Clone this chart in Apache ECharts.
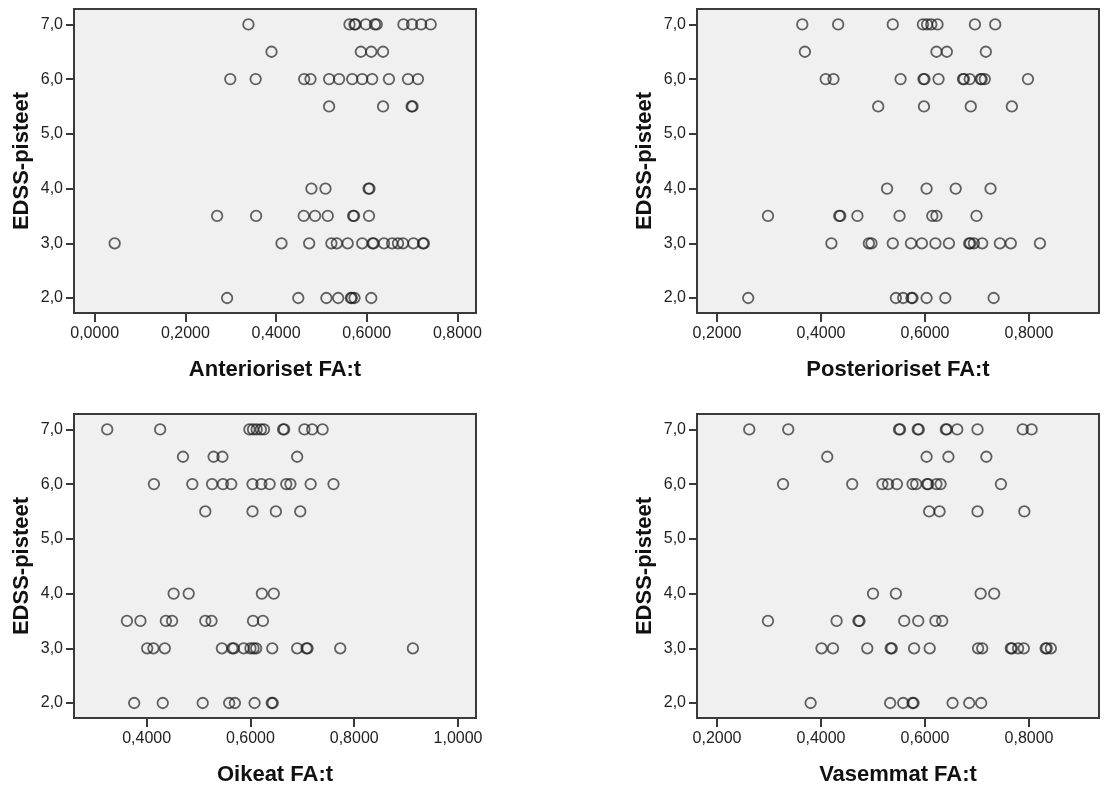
<!DOCTYPE html>
<html>
<head>
<meta charset="utf-8">
<script src="https://cdn.jsdelivr.net/npm/echarts@6/dist/echarts.min.js"></script>
<style>
  html, body { margin: 0; padding: 0; background: #fff; }
  #main { width: 1104px; height: 791px; }
</style>
</head>
<body>
<div id="main"></div>
<script>
// EDSS score rows, top to bottom; each FA array below has one list per row
const edssLevels = [7.0, 6.5, 6.0, 5.5, 4.0, 3.5, 3.0, 2.0];
const edssTicks = [2, 3, 4, 5, 6, 7];

const anteriorFA = [
  [0.339, 0.562, 0.573, 0.575, 0.598, 0.618, 0.622, 0.681, 0.700, 0.720, 0.741],
  [0.390, 0.587, 0.610, 0.636],
  [0.299, 0.355, 0.462, 0.476, 0.517, 0.539, 0.568, 0.590, 0.612, 0.649, 0.691, 0.713],
  [0.517, 0.636, 0.699, 0.701],
  [0.478, 0.509, 0.604, 0.606],
  [0.270, 0.356, 0.461, 0.486, 0.514, 0.570, 0.572, 0.605],
  [0.044, 0.412, 0.473, 0.522, 0.534, 0.558, 0.590, 0.613, 0.615, 0.638, 0.656, 0.669, 0.680, 0.703, 0.724, 0.726],
  [0.292, 0.449, 0.511, 0.537, 0.565, 0.567, 0.573, 0.610]
];
const posteriorFA = [
  [0.364, 0.433, 0.538, 0.596, 0.604, 0.612, 0.624, 0.696, 0.735],
  [0.369, 0.622, 0.642, 0.717],
  [0.409, 0.424, 0.553, 0.597, 0.599, 0.626, 0.673, 0.675, 0.686, 0.707, 0.709, 0.715, 0.798],
  [0.510, 0.598, 0.688, 0.767],
  [0.527, 0.603, 0.659, 0.726],
  [0.298, 0.435, 0.437, 0.470, 0.551, 0.614, 0.622, 0.699],
  [0.420, 0.492, 0.497, 0.538, 0.573, 0.594, 0.620, 0.646, 0.685, 0.687, 0.694, 0.710, 0.744, 0.765, 0.821],
  [0.260, 0.544, 0.558, 0.574, 0.576, 0.603, 0.639, 0.732]
];
const oikeatFA = [
  [0.324, 0.426, 0.598, 0.605, 0.612, 0.620, 0.626, 0.663, 0.665, 0.704, 0.719, 0.739],
  [0.470, 0.529, 0.546, 0.690],
  [0.414, 0.488, 0.526, 0.547, 0.563, 0.604, 0.621, 0.637, 0.669, 0.677, 0.716, 0.760],
  [0.513, 0.604, 0.649, 0.696],
  [0.452, 0.481, 0.622, 0.645],
  [0.362, 0.388, 0.437, 0.449, 0.513, 0.525, 0.605, 0.624],
  [0.401, 0.413, 0.435, 0.545, 0.565, 0.568, 0.587, 0.600, 0.606, 0.611, 0.642, 0.690, 0.708, 0.710, 0.773, 0.913],
  [0.376, 0.431, 0.508, 0.559, 0.570, 0.608, 0.641, 0.643]
];
const vasemmatFA = [
  [0.262, 0.337, 0.550, 0.552, 0.586, 0.588, 0.640, 0.642, 0.662, 0.701, 0.788, 0.805],
  [0.412, 0.603, 0.645, 0.718],
  [0.327, 0.460, 0.518, 0.529, 0.546, 0.576, 0.583, 0.604, 0.606, 0.622, 0.630, 0.746],
  [0.608, 0.628, 0.701, 0.791],
  [0.500, 0.544, 0.707, 0.733],
  [0.298, 0.430, 0.472, 0.474, 0.560, 0.587, 0.620, 0.633],
  [0.401, 0.423, 0.489, 0.534, 0.536, 0.579, 0.609, 0.702, 0.710, 0.765, 0.767, 0.779, 0.790, 0.832, 0.834, 0.842],
  [0.380, 0.533, 0.558, 0.576, 0.578, 0.653, 0.685, 0.708]
];

const ticksAnterior = [0, 0.2, 0.4, 0.6, 0.8];
const ticksPosterior = [0.2, 0.4, 0.6, 0.8];
const ticksOikeat = [0.4, 0.6, 0.8, 1.0];
const ticksVasemmat = [0.2, 0.4, 0.6, 0.8];

const panels = [
  { name: 'Anterioriset FA:t', fa: anteriorFA, ticks: ticksAnterior, min: -0.0457, max: 0.841, left: 74, top: 9 },
  { name: 'Posterioriset FA:t', fa: posteriorFA, ticks: ticksPosterior, min: 0.1615, max: 0.9346, left: 697, top: 9 },
  { name: 'Oikeat FA:t', fa: oikeatFA, ticks: ticksOikeat, min: 0.26, max: 1.0346, left: 74, top: 414 },
  { name: 'Vasemmat FA:t', fa: vasemmatFA, ticks: ticksVasemmat, min: 0.1615, max: 0.9346, left: 697, top: 414 }
];

const font = '"Liberation Sans", Arial, sans-serif';
const lineCol = '#3a3a3a';

const grid = [], xAxis = [], yAxis = [], series = [];
panels.forEach((p, i) => {
  grid.push({
    left: p.left, top: p.top, width: 402, height: 304,
    show: true, backgroundColor: '#f0f0f0', borderColor: lineCol, borderWidth: 2,
    outerBoundsMode: 'none'
  });
  xAxis.push({
    gridIndex: i, type: 'value', min: p.min, max: p.max,
    name: p.name, nameLocation: 'middle', nameGap: 46,
    nameTextStyle: { fontFamily: font, fontSize: 22, fontWeight: 'bold', color: '#111' },
    axisLine: { show: true, onZero: false, lineStyle: { color: lineCol, width: 2 } },
    axisTick: { show: true, length: 9, customValues: p.ticks, lineStyle: { color: lineCol, width: 2 } },
    axisLabel: {
      customValues: p.ticks, margin: 13, fontFamily: font, fontSize: 16, color: '#222',
      formatter: v => v.toFixed(4).replace('.', ',')
    },
    splitLine: { show: false }
  });
  yAxis.push({
    gridIndex: i, type: 'value', min: 1.726, max: 7.281,
    name: 'EDSS-pisteet', nameLocation: 'middle', nameGap: 41,
    nameTextStyle: { fontFamily: font, fontSize: 22, fontWeight: 'bold', color: '#111' },
    axisLine: { show: true, onZero: false, lineStyle: { color: lineCol, width: 2 } },
    axisTick: { show: true, length: 8, customValues: edssTicks, lineStyle: { color: lineCol, width: 2 } },
    axisLabel: {
      customValues: edssTicks, margin: 11, fontFamily: font, fontSize: 16, color: '#222',
      formatter: v => v.toFixed(1).replace('.', ',')
    },
    splitLine: { show: false }
  });
  const pts = [];
  edssLevels.forEach((lvl, r) => {
    p.fa[r].forEach(x => pts.push([x, lvl]));
  });
  series.push({
    type: 'scatter', xAxisIndex: i, yAxisIndex: i,
    symbol: 'circle', symbolSize: 10.5,
    itemStyle: { color: 'rgba(0,0,0,0)', borderColor: 'rgba(30,30,30,0.85)', borderWidth: 1.8 },
    data: pts
  });
});

const myChart = echarts.init(document.getElementById('main'), null, { renderer: 'canvas' });
myChart.setOption({
  animation: false,
  backgroundColor: '#fff',
  grid: grid,
  xAxis: xAxis,
  yAxis: yAxis,
  series: series
});
</script>
</body>
</html>
